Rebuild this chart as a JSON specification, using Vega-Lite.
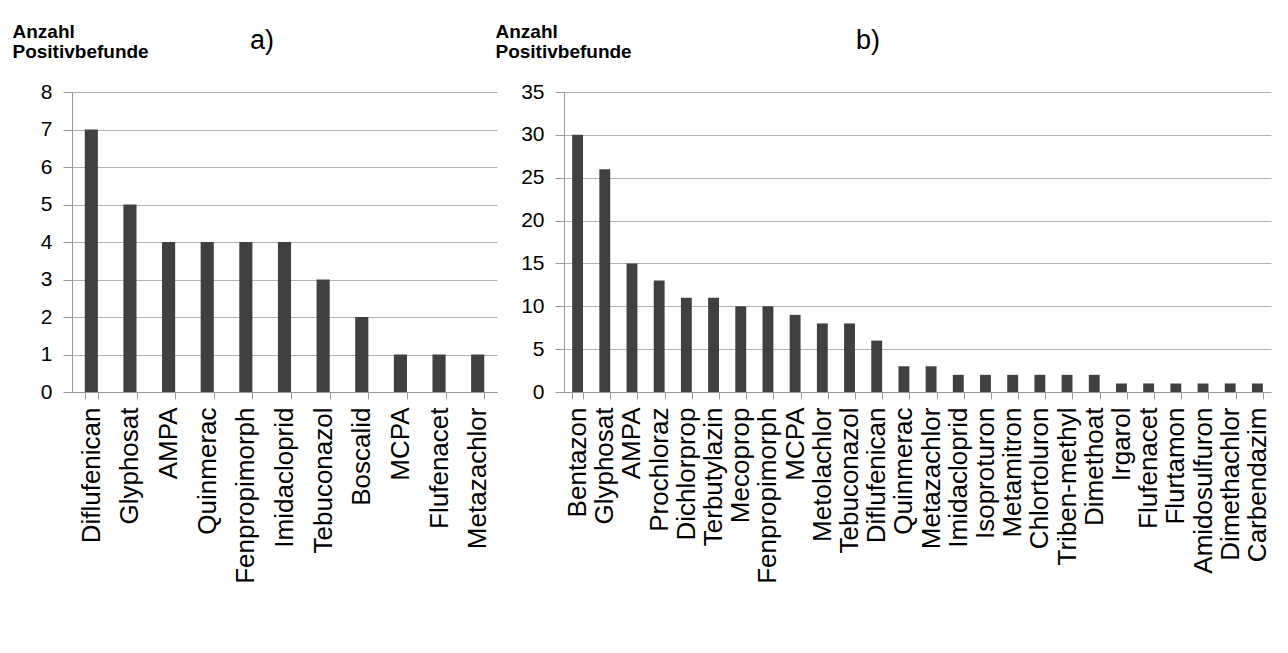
{
  "$schema": "https://vega.github.io/schema/vega-lite/v6.json",
  "background": "white",
  "padding": {"left": 12, "top": 22, "right": 10, "bottom": 5},
  "spacing": 67,
  "bounds": "flush",
  "datasets": {
    "a": [
      {"Wirkstoff": "Diflufenican", "Anzahl": 7},
      {"Wirkstoff": "Glyphosat", "Anzahl": 5},
      {"Wirkstoff": "AMPA", "Anzahl": 4},
      {"Wirkstoff": "Quinmerac", "Anzahl": 4},
      {"Wirkstoff": "Fenpropimorph", "Anzahl": 4},
      {"Wirkstoff": "Imidacloprid", "Anzahl": 4},
      {"Wirkstoff": "Tebuconazol", "Anzahl": 3},
      {"Wirkstoff": "Boscalid", "Anzahl": 2},
      {"Wirkstoff": "MCPA", "Anzahl": 1},
      {"Wirkstoff": "Flufenacet", "Anzahl": 1},
      {"Wirkstoff": "Metazachlor", "Anzahl": 1}
    ],
    "b": [
      {"Wirkstoff": "Bentazon", "Anzahl": 30},
      {"Wirkstoff": "Glyphosat", "Anzahl": 26},
      {"Wirkstoff": "AMPA", "Anzahl": 15},
      {"Wirkstoff": "Prochloraz", "Anzahl": 13},
      {"Wirkstoff": "Dichlorprop", "Anzahl": 11},
      {"Wirkstoff": "Terbutylazin", "Anzahl": 11},
      {"Wirkstoff": "Mecoprop", "Anzahl": 10},
      {"Wirkstoff": "Fenpropimorph", "Anzahl": 10},
      {"Wirkstoff": "MCPA", "Anzahl": 9},
      {"Wirkstoff": "Metolachlor", "Anzahl": 8},
      {"Wirkstoff": "Tebuconazol", "Anzahl": 8},
      {"Wirkstoff": "Diflufenican", "Anzahl": 6},
      {"Wirkstoff": "Quinmerac", "Anzahl": 3},
      {"Wirkstoff": "Metazachlor", "Anzahl": 3},
      {"Wirkstoff": "Imidacloprid", "Anzahl": 2},
      {"Wirkstoff": "Isoproturon", "Anzahl": 2},
      {"Wirkstoff": "Metamitron", "Anzahl": 2},
      {"Wirkstoff": "Chlortoluron", "Anzahl": 2},
      {"Wirkstoff": "Triben-methyl", "Anzahl": 2},
      {"Wirkstoff": "Dimethoat", "Anzahl": 2},
      {"Wirkstoff": "Irgarol", "Anzahl": 1},
      {"Wirkstoff": "Flufenacet", "Anzahl": 1},
      {"Wirkstoff": "Flurtamon", "Anzahl": 1},
      {"Wirkstoff": "Amidosulfuron", "Anzahl": 1},
      {"Wirkstoff": "Dimethachlor", "Anzahl": 1},
      {"Wirkstoff": "Carbendazim", "Anzahl": 1}
    ]
  },
  "hconcat": [
    {
      "data": {"name": "a"},
      "width": 425,
      "height": 300,
      "title": {"text": "a)", "anchor": "start", "dx": 238, "offset": -54, "baseline": "alphabetic", "fontSize": 27, "fontWeight": "normal", "font": "Liberation Sans", "color": "black"},
      "mark": {"type": "bar", "color": "#404040"},
      "encoding": {
        "x": {"field": "Wirkstoff", "type": "nominal", "sort": null, "title": null,
              "scale": {"paddingInner": 0.66, "paddingOuter": 0.33}},
        "y": {"field": "Anzahl", "type": "quantitative", "scale": {"domain": [0, 8]},
              "axis": {"values": [0,1,2,3,4,5,6,7,8], "title": ["Anzahl", "Positivbefunde"], "titleX": -60, "titleY": -70}}
      }
    },
    {
      "data": {"name": "b"},
      "width": 707,
      "height": 300,
      "title": {"text": "b)", "anchor": "start", "dx": 361, "offset": -54, "baseline": "alphabetic", "fontSize": 27, "fontWeight": "normal", "font": "Liberation Sans", "color": "black"},
      "mark": {"type": "bar", "color": "#404040"},
      "encoding": {
        "x": {"field": "Wirkstoff", "type": "nominal", "sort": null, "title": null,
              "scale": {"paddingInner": 0.6, "paddingOuter": 0.3}},
        "y": {"field": "Anzahl", "type": "quantitative", "scale": {"domain": [0, 35]},
              "axis": {"values": [0,5,10,15,20,25,30,35], "title": ["Anzahl", "Positivbefunde"], "titleX": -69, "titleY": -70}}
      }
    }
  ],
  "config": {
    "view": {"stroke": null},
    "font": "Liberation Sans",
    "axis": {
      "labelFont": "Liberation Sans",
      "labelColor": "black",
      "domainColor": "#999999",
      "tickColor": "#999999",
      "gridColor": "#b0b0b0",
      "titleFont": "Liberation Sans",
      "titleFontSize": 19,
      "titleFontWeight": "bold",
      "titleColor": "black"
    },
    "axisY": {
      "grid": true,
      "labelFontSize": 21,
      "tickSize": 9,
      "labelPadding": 11,
      "titleAngle": 0,
      "titleAlign": "left",
      "titleBaseline": "top",
      "titleLineHeight": 20
    },
    "axisX": {
      "grid": false,
      "labelFontSize": 26,
      "labelAngle": -90,
      "labelAlign": "right",
      "labelBaseline": "middle",
      "tickBand": "extent",
      "tickSize": 7,
      "labelPadding": 8
    }
  }
}
